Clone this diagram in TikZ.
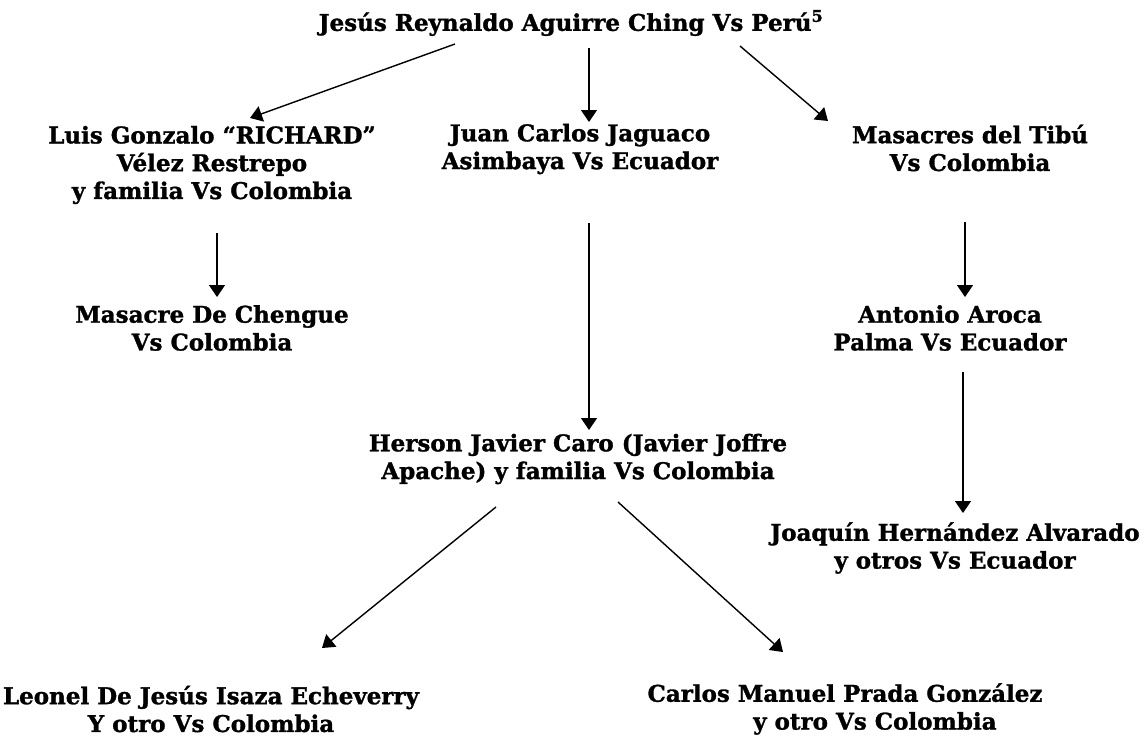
\documentclass[tikz,border=0pt]{standalone}
\usepackage{fontspec}
\setmainfont{DejaVu Serif}[BoldFeatures={FakeBold=1.3}]
\usetikzlibrary{arrows.meta,calc}
\begin{document}
\begin{tikzpicture}[x=1pt,y=-1pt,
  lbl/.style={inner sep=0pt,align=center,font=\fontsize{23}{27.8}\selectfont\bfseries},
  arr/.style={line width=1.4pt,-{Triangle[length=12pt,width=16pt]}}]
\useasboundingbox[fill=white] (0,0) rectangle (1146,739);
\node[lbl] (top) at (571,23) {Jesús Reynaldo Aguirre Ching Vs Perú\textsuperscript{5}};
\node[lbl] (luis) at (212,165) {Luis Gonzalo “RICHARD”\\Vélez Restrepo\\y familia Vs Colombia};
\node[lbl] (juan) at (580,149) {Juan Carlos Jaguaco\\Asimbaya Vs Ecuador};
\node[lbl] (tibu) at (970,148) {Masacres del Tibú\\Vs Colombia};
\node[lbl] (cheng) at (212,328) {Masacre De Chengue\\Vs Colombia};
\node[lbl] (antonio) at (950,328) {Antonio Aroca\\Palma Vs Ecuador};
\node[lbl] (herson) at (578,459) {Herson Javier Caro (Javier Joffre\\Apache) y familia Vs Colombia};
\node[lbl] (joaquin) at (955,548) {Joaquín Hernández Alvarado\\y otros Vs Ecuador};
\node[lbl] (leonel) at (211,709) {Leonel De Jesús Isaza Echeverry\\Y otro Vs Colombia};
\node[lbl] (carlos) at (845,709) {Carlos Manuel Prada González\\\hspace*{2.6em}y otro Vs Colombia};
\draw[arr] ($(top.center)+(-116,21)$) -- ($(luis.center)+(38,-47)$);
\draw[arr] ($(top.center)+(18,25)$) -- ($(juan.center)+(9,-27)$);
\draw[arr] ($(top.center)+(169,23)$) -- ($(tibu.center)+(-142,-27)$);
\draw[arr] ($(luis.center)+(5,68)$) -- ($(cheng.center)+(5,-31)$);
\draw[arr] ($(juan.center)+(9,74)$) -- ($(herson.center)+(11,-29)$);
\draw[arr] ($(tibu.center)+(-5,74)$) -- ($(antonio.center)+(15,-31)$);
\draw[arr] ($(antonio.center)+(13,44)$) -- ($(joaquin.center)+(8,-35)$);
\draw[arr] ($(herson.center)+(-82,48)$) -- ($(leonel.center)+(111,-61)$);
\draw[arr] ($(herson.center)+(40,43)$) -- ($(carlos.center)+(-62,-57)$);
\end{tikzpicture}
\end{document}
